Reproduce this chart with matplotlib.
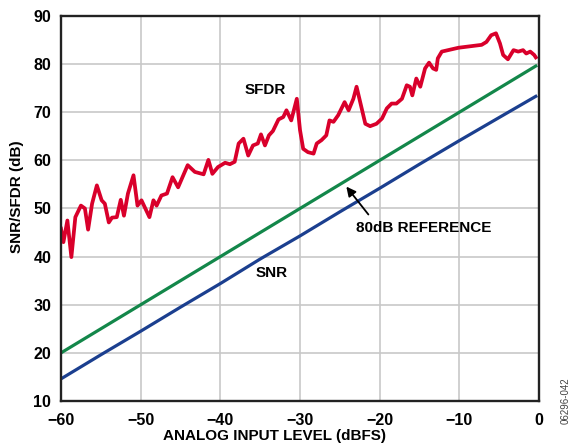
import matplotlib
matplotlib.use("Agg")
import matplotlib.pyplot as plt

plt.rcParams['font.family'] = ['Liberation Sans', 'DejaVu Sans']

## SFDR trace
sfdr_x = [-60.0, -59.7, -59.2, -58.7, -58.2, -57.5, -57.0, -56.6, -56.1, -55.5,
          -54.9, -54.5, -54.0, -53.6, -53.0, -52.5, -52.1, -51.6, -50.9, -50.4,
          -49.9, -48.9, -48.4, -48.0, -47.4, -46.7, -46.0, -45.3, -44.1, -43.2,
          -42.1, -41.5, -41.0, -40.3, -39.4, -38.8, -38.2, -37.7, -37.1, -36.5,
          -35.9, -35.3, -34.9, -34.4, -33.9, -33.4, -32.7, -32.1, -31.7, -31.1,
          -30.4, -30.0, -29.6, -29.0, -28.3, -27.9, -27.3, -26.7, -26.3, -25.8,
          -25.2, -24.4, -23.9, -23.3, -22.9, -22.4, -21.8, -21.2, -20.4, -19.7,
          -19.1, -18.5, -17.9, -17.2, -16.6, -16.2, -15.9, -15.4, -14.9, -14.3,
          -13.8, -13.3, -12.9, -12.7, -12.2, -10.1, -7.2, -6.6, -6.0, -5.4,
          -4.9, -4.5, -3.9, -3.2, -2.6, -2.0, -1.6, -1.1, -0.6, -0.4]
sfdr_y = [45.8, 43.0, 47.5, 39.9, 48.2, 50.6, 50.0, 45.6, 51.0, 54.8,
          51.7, 51.0, 47.1, 48.1, 48.2, 51.8, 48.5, 53.1, 56.9, 50.6,
          51.7, 48.2, 51.7, 50.6, 52.7, 53.1, 56.5, 54.4, 59.0, 57.6,
          57.1, 60.1, 57.2, 58.6, 59.5, 59.2, 59.7, 63.5, 64.5, 61.0,
          63.1, 63.5, 65.4, 63.1, 65.2, 66.1, 68.5, 69.0, 70.4, 68.3,
          72.8, 66.3, 62.4, 61.7, 61.4, 63.5, 64.2, 65.2, 68.3, 68.0,
          69.4, 72.1, 70.4, 72.8, 75.3, 71.8, 67.6, 67.1, 67.6, 68.7,
          70.8, 71.8, 71.8, 72.8, 75.6, 75.3, 73.5, 77.0, 75.3, 79.1,
          80.3, 79.1, 78.8, 81.2, 82.6, 83.4, 84.0, 84.6, 86.0, 86.4,
          84.3, 81.9, 81.0, 82.9, 82.6, 82.9, 82.2, 82.6, 81.9, 81.4]

ref_x = [-60, -50, -40, -30, -20, -10, -0.4]
ref_y = [20.0, 30.0, 40.0, 50.0, 60.0, 70.0, 79.6]

snr_x = [-60, -55, -50, -45, -40, -35, -30, -25, -20, -15, -10, -5, -0.4]
snr_y = [14.6, 19.6, 24.5, 29.5, 34.4, 39.5, 44.3, 49.3, 54.2, 59.2, 64.1, 68.9, 73.3]

xticks = [-60, -50, -40, -30, -20, -10, 0]
yticks = [10, 20, 30, 40, 50, 60, 70, 80, 90]

fig = plt.figure(figsize=(5.74, 4.45), dpi=100)
ax = fig.add_axes([0.1063, 0.0989, 0.8327, 0.8652])

ax.plot(sfdr_x, sfdr_y, color='#d9002b', linewidth=2.7, solid_joinstyle='round')
ax.plot(ref_x, ref_y, color='#13874a', linewidth=2.3)
ax.plot(snr_x, snr_y, color='#1b3f8f', linewidth=2.3)

ax.set_xlim(-60, 0)
ax.set_ylim(10, 90)
ax.set_xticks(xticks)
ax.set_yticks(yticks)
ax.grid(True, color='#c8c8c8', linewidth=1.2)
ax.set_axisbelow(True)
ax.tick_params(length=0, labelsize=11.5)
ax.tick_params(axis='x', pad=9)
ax.tick_params(axis='y', pad=7)
for lbl in ax.get_xticklabels() + ax.get_yticklabels():
    lbl.set_fontweight('bold')
for sp in ax.spines.values():
    sp.set_linewidth(1.7)
    sp.set_color('#222222')

ax.set_xlabel('ANALOG INPUT LEVEL (dBFS)', fontsize=11, fontweight='bold')
ax.xaxis.set_label_coords(0.446, -0.073)
ax.set_ylabel('SNR/SFDR (dB)', fontsize=11, fontweight='bold')
ax.yaxis.set_label_coords(-0.078, 0.53)

ax.text(-34.4, 74.6, 'SFDR', fontsize=11, fontweight='bold', ha='center', va='center')
ax.text(-33.5, 36.6, 'SNR', fontsize=11, fontweight='bold', ha='center', va='center')
ax.text(-23.0, 45.9, '80dB REFERENCE', fontsize=11, fontweight='bold', ha='left', va='center')
ax.annotate('', xy=(-24.4, 55.0), xytext=(-21.2, 48.3),
            arrowprops=dict(arrowstyle='-|>', color='black', lw=1.3, mutation_scale=14))

fig.text(0.986, 0.10, '06296-042', rotation=90, fontsize=7, color='#444444',
         ha='center', va='center')

fig.savefig('out.png', dpi=100)
